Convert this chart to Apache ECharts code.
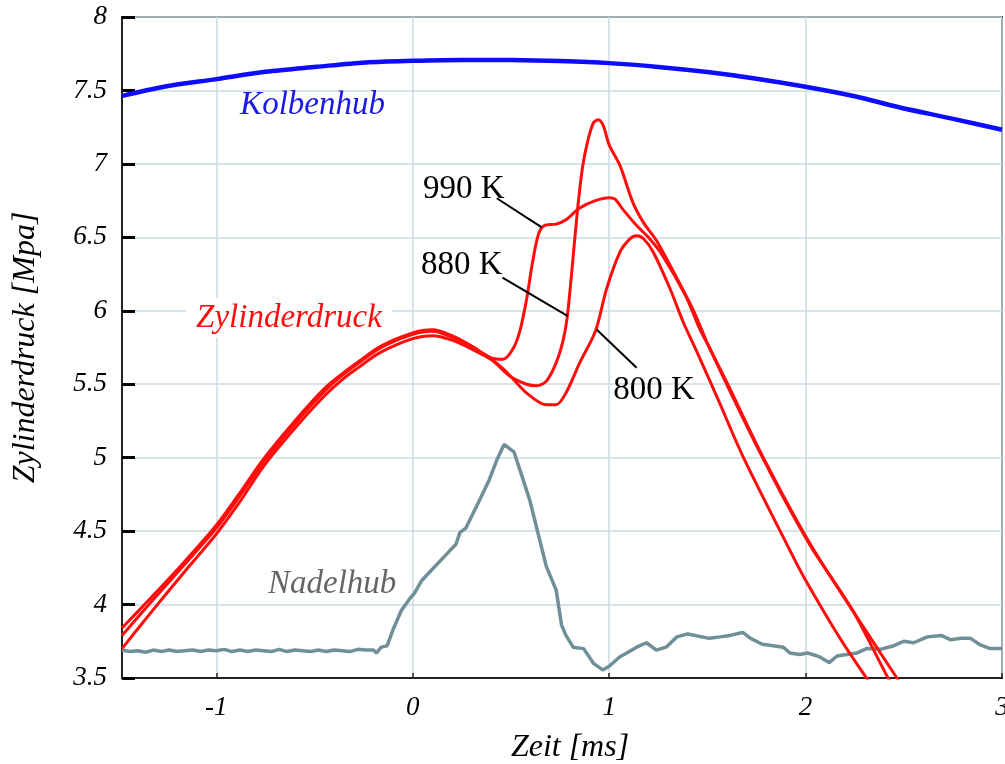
<!DOCTYPE html>
<html><head><meta charset="utf-8">
<script src="https://cdn.jsdelivr.net/npm/echarts@6/dist/echarts.min.js"></script>
<style>html,body{margin:0;padding:0;background:#fff;overflow:hidden}#c{width:1005px;height:764px}</style>
</head><body><div id="c"></div>
<script>
// ---- data ----
const kolbenX = [-1.48,-1.26,-1.0,-0.75,-0.49,-0.24,0.0,0.25,0.5,0.75,1.0,1.25,1.5,1.75,2.0,2.25,2.48,2.74,3.0];
const kolbenY = [7.463,7.527,7.577,7.627,7.661,7.691,7.702,7.708,7.707,7.70,7.686,7.66,7.625,7.58,7.525,7.46,7.384,7.31,7.232];

const nadelX = [-1.48,-1.44,-1.40,-1.36,-1.32,-1.28,-1.24,-1.20,-1.16,-1.12,-1.08,-1.04,-1.00,-0.96,-0.92,-0.88,-0.84,-0.80,-0.76,-0.72,-0.68,-0.64,-0.60,-0.56,-0.52,-0.48,-0.44,-0.40,-0.36,-0.32,-0.28,-0.24,-0.20,-0.185,-0.16,-0.13,-0.10,-0.058,-0.015,0.01,0.044,0.10,0.17,0.22,0.24,0.27,0.34,0.39,0.43,0.465,0.515,0.55,0.596,0.68,0.73,0.758,0.78,0.817,0.87,0.92,0.967,1.0,1.055,1.09,1.14,1.19,1.24,1.29,1.345,1.40,1.51,1.565,1.615,1.68,1.72,1.78,1.835,1.886,1.92,1.97,2.01,2.07,2.12,2.16,2.21,2.26,2.31,2.38,2.45,2.50,2.55,2.62,2.69,2.74,2.79,2.84,2.89,2.94,3.0];
const nadelY = [3.69,3.68,3.685,3.675,3.69,3.68,3.69,3.68,3.685,3.69,3.68,3.69,3.685,3.695,3.68,3.69,3.68,3.69,3.685,3.68,3.695,3.68,3.69,3.685,3.68,3.69,3.68,3.69,3.685,3.68,3.695,3.69,3.69,3.67,3.71,3.72,3.83,3.96,4.04,4.08,4.16,4.24,4.34,4.41,4.49,4.52,4.71,4.85,4.99,5.09,5.04,4.90,4.71,4.26,4.10,3.86,3.79,3.71,3.70,3.60,3.555,3.58,3.645,3.67,3.71,3.74,3.69,3.71,3.78,3.80,3.77,3.78,3.79,3.81,3.77,3.73,3.72,3.71,3.67,3.66,3.67,3.645,3.605,3.65,3.66,3.67,3.70,3.695,3.72,3.75,3.74,3.78,3.79,3.76,3.77,3.77,3.725,3.70,3.70];

const p990X = [-1.48,-1.33,-1.17,-1.0,-0.88,-0.76,-0.6,-0.45,-0.36,-0.27,-0.18,-0.09,0.0,0.05,0.1,0.2,0.3,0.4,0.46,0.51,0.545,0.58,0.61,0.64,0.67,0.73,0.78,0.85,0.93,1.0,1.03,1.07,1.14,1.2,1.27,1.39,1.46,1.51,1.6,1.785,2.02,2.21,2.465,2.5];
const p990Y = [3.84,4.05,4.28,4.54,4.76,4.99,5.25,5.47,5.57,5.66,5.745,5.805,5.85,5.865,5.87,5.83,5.76,5.68,5.67,5.74,5.86,6.08,6.33,6.52,6.58,6.59,6.62,6.70,6.75,6.77,6.76,6.69,6.58,6.50,6.38,6.10,5.88,5.75,5.51,5.0,4.42,4.02,3.5,3.43];

const p880X = [-1.48,-1.33,-1.17,-1.0,-0.88,-0.76,-0.6,-0.45,-0.36,-0.27,-0.18,-0.09,0.0,0.05,0.1,0.2,0.3,0.4,0.49,0.58,0.63,0.68,0.73,0.766,0.787,0.81,0.84,0.865,0.89,0.92,0.945,0.97,1.0,1.055,1.12,1.175,1.24,1.33,1.43,1.51,1.785,2.02,2.24,2.42,2.45];
const p880Y = [3.79,4.02,4.26,4.52,4.74,4.97,5.23,5.45,5.56,5.65,5.735,5.795,5.84,5.855,5.86,5.82,5.75,5.67,5.56,5.50,5.49,5.52,5.645,5.80,5.96,6.27,6.70,6.98,7.15,7.28,7.30,7.26,7.13,6.99,6.74,6.60,6.48,6.26,6.00,5.75,4.99,4.41,3.96,3.5,3.44];

const p800X = [-1.48,-1.33,-1.17,-1.0,-0.88,-0.76,-0.6,-0.45,-0.36,-0.27,-0.18,-0.09,0.0,0.05,0.1,0.2,0.3,0.41,0.48,0.58,0.68,0.73,0.78,0.85,0.93,0.987,1.055,1.106,1.14,1.175,1.224,1.31,1.378,1.44,1.55,1.684,1.92,1.99,2.18,2.31,2.34];
const p800Y = [3.70,3.95,4.21,4.48,4.70,4.94,5.20,5.42,5.53,5.62,5.705,5.765,5.81,5.825,5.83,5.80,5.74,5.66,5.58,5.44,5.36,5.36,5.44,5.645,5.86,6.15,6.40,6.49,6.51,6.49,6.40,6.15,5.92,5.74,5.41,5.0,4.37,4.19,3.76,3.5,3.44];

// annotation anchors (data coordinates)
const labelTexts = ['Kolbenhub','Zylinderdruck','Nadelhub','990 K','880 K','800 K'];
const labelAt = {Kolbenhub:[-0.51,7.40], Zylinderdruck:[-0.63,5.95], Nadelhub:[-0.41,4.14], k990:[0.26,6.83], k880:[0.25,6.31], k800:[1.228,5.46]};
const leader990 = [[0.428,6.766],[0.657,6.568]];
const leader880 = [[0.457,6.225],[0.79,5.963]];
const leader800 = [[0.936,5.873],[1.14,5.612]];

const zip = (xs, ys) => xs.map((x, i) => [x, ys[i]]);
const SERIF = '"Liberation Serif","Times New Roman",serif';

const chart = echarts.init(document.getElementById('c'), null, {renderer: 'canvas'});
const mpText = (name, coord, color, italic, extra) => ({
  coord: coord, symbolSize: 0,
  label: Object.assign({show: true, position: 'inside', formatter: name, color: color,
    fontFamily: SERIF, fontStyle: italic ? 'italic' : 'normal', fontSize: 33}, extra || {})
});
const leader = seg => [{coord: seg[0]}, {coord: seg[1]}];

const redStyle = {color: '#ff0d0d', width: 3};
chart.setOption({
  animation: false,
  backgroundColor: '#ffffff',
  grid: {left: 122, right: 3, top: 17, bottom: 86, outerBoundsMode: 'none', containLabel: false,
         show: true, borderColor: '#222', borderWidth: 2, backgroundColor: 'transparent'},
  xAxis: {
    type: 'value', min: -1.48, max: 3,
    name: 'Zeit [ms]', nameLocation: 'middle', nameGap: 54,
    nameTextStyle: {fontFamily: SERIF, fontStyle: 'italic', fontSize: 32, color: '#000', padding: [0, 0, 0, 16]},
    axisLine: {show: true, onZero: false, lineStyle: {color: '#222', width: 2}},
    axisTick: {show: true, inside: true, length: 5, lineStyle: {color: '#222', width: 1.5}},
    axisLabel: {showMinLabel: false, margin: 16, fontFamily: SERIF, fontStyle: 'italic', fontSize: 27, color: '#000'},
    splitLine: {show: true, lineStyle: {color: '#cbdae3', width: 1.5}}
  },
  yAxis: {
    type: 'value', min: 3.5, max: 8, interval: 0.5,
    name: 'Zylinderdruck [Mpa]', nameLocation: 'middle', nameGap: 80, nameRotate: 90,
    nameTextStyle: {fontFamily: SERIF, fontStyle: 'italic', fontSize: 32, color: '#000'},
    axisLine: {show: true, onZero: false, lineStyle: {color: '#222', width: 2}},
    axisTick: {show: true, inside: true, length: 13, lineStyle: {color: '#000', width: 3}},
    axisLabel: {margin: 15, fontFamily: SERIF, fontStyle: 'italic', fontSize: 27, color: '#000'},
    splitLine: {show: true, lineStyle: {color: '#cbdae3', width: 1.5}}
  },
  series: [
    {name: 'Nadelhub', type: 'line', data: zip(nadelX, nadelY), showSymbol: false, clip: true,
     lineStyle: {color: '#6f9098', width: 3.5}, z: 2,
     markPoint: {silent: true, data: [
       mpText(labelTexts[2], labelAt.Nadelhub, '#666666', true),
       mpText(labelTexts[1], labelAt.Zylinderdruck, '#ff0d0d', true, {backgroundColor: '#ffffff', padding: [6, 10, 0, 10]})]}},
    {name: '800 K', type: 'line', data: zip(p800X, p800Y), showSymbol: false, clip: true, smooth: 0.3,
     lineStyle: redStyle, z: 3,
     markLine: {silent: true, symbol: ['none','none'], label: {show: false}, lineStyle: {color: '#000', width: 2, type: 'solid'},
       data: [leader(leader990), leader(leader880), leader(leader800)]},
     markPoint: {silent: true, data: [
       mpText(labelTexts[3], labelAt.k990, '#000', false),
       mpText(labelTexts[4], labelAt.k880, '#000', false),
       mpText(labelTexts[5], labelAt.k800, '#000', false)]}},
    {name: '880 K', type: 'line', data: zip(p880X, p880Y), showSymbol: false, clip: true, smooth: 0.3,
     lineStyle: redStyle, z: 3},
    {name: '990 K', type: 'line', data: zip(p990X, p990Y), showSymbol: false, clip: true, smooth: 0.3,
     lineStyle: redStyle, z: 3},
    {name: 'Kolbenhub', type: 'line', data: zip(kolbenX, kolbenY), showSymbol: false, clip: true, smooth: 0.3,
     lineStyle: {color: '#0c0cff', width: 4.5}, z: 4,
     markPoint: {silent: true, data: [mpText(labelTexts[0], labelAt.Kolbenhub, '#1a1ae6', true)]}}
  ]
});
</script>
</body></html>
